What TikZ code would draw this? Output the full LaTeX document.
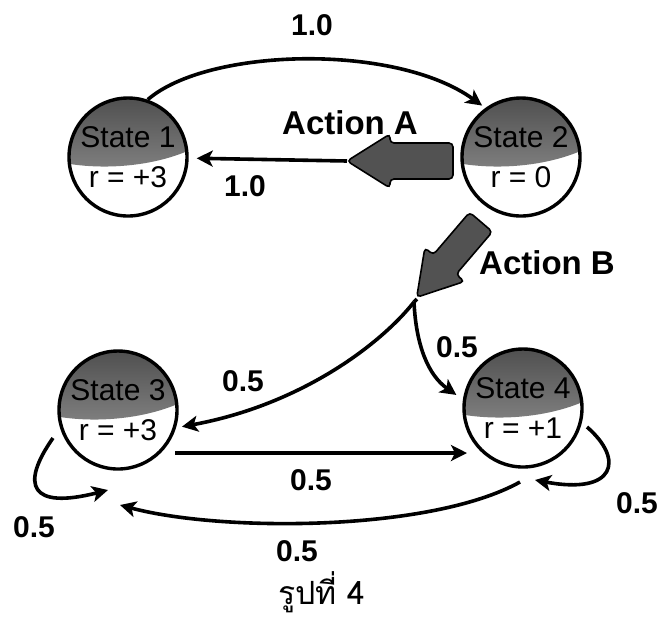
\documentclass[tikz,border=0pt]{standalone}
\usepackage{fontspec}
\setmainfont{Liberation Sans}
\newfontfamily\thaifont[Script=Thai]{Loma}
\usetikzlibrary{arrows.meta,calc}
\begin{document}
\begin{tikzpicture}[x=0.5pt,y=-0.5pt,
  statenode/.style={circle, draw, line width=1.7pt, minimum size=59pt, inner sep=0pt, align=center,
    font=\fontsize{15}{20}\selectfont,
    path picture={\shade[top color=black!70,bottom color=black!38]
       ([shift={(-32pt,-3pt)}]path picture bounding box.center)
       .. controls ([shift={(-10pt,-7pt)}]path picture bounding box.center)
       and ([shift={(15pt,-4pt)}]path picture bounding box.center)
       .. ([shift={(32pt,4pt)}]path picture bounding box.center)
       -- ([shift={(32pt,32pt)}]path picture bounding box.center)
       -- ([shift={(-32pt,32pt)}]path picture bounding box.center) -- cycle;}},
  lbl/.style={font=\bfseries\fontsize{15}{15}\selectfont},
  act/.style={font=\bfseries\fontsize{16.5}{16.5}\selectfont},
  conn/.style={line width=1.8pt, -{Stealth[length=8pt,width=8pt,inset=2pt]}},
  fat/.style={fill=black!68, draw=black, line width=0.8pt, rounded corners=2pt}
]
\useasboundingbox (0,0) rectangle (663,617);

% states
\node[statenode] (s1) at (128,157) {State 1\\r = +3};
\node[statenode] (s2) at (521,157) {State 2\\r = 0};
\node[statenode] (s3) at (118,410) {State 3\\r = +3};
\node[statenode] (s4) at (523,408) {State 4\\r = +1};

% fat action arrows
\begin{scope}[shift={(453,161)}, rotate=180]
  \filldraw[fat] (0,-18) -- (63,-18) -- (63,-27) -- (106,0) -- (63,27) -- (63,18) -- (0,18) -- cycle;
\end{scope}
\begin{scope}[shift={(481,222)}, rotate=229.5]
  \filldraw[fat] (0,-15) -- (56,-15) -- (56,-26) -- (99,0) -- (56,26) -- (56,15) -- (0,15) -- cycle;
\end{scope}

\coordinate (atip) at (347,161);
\coordinate (br) at (414,302);

% connectors
\draw[conn, shorten >=2pt] (s1.71) .. controls +(60,-52) and +(-90,-65) .. (s2.126);
\draw[conn, shorten >=4pt] (atip) -- (s1);
\draw[line width=1.8pt] (br) -- +(3,-3);
\draw[conn, shorten >=3pt] (br) .. controls (380,345) and (300,405) .. (s3.-17);
\draw[conn, shorten >=4pt] (br) .. controls (416,345) and (428,375) .. (s4.172);
\draw[conn] ($(s3)+(57,43)$) -- ($(s4)+(-56,45)$);
\draw[conn] ($(s4)+(-3,74)$) .. controls (430,532) and (220,532) .. ($(s3)+(2,95)$);
\draw[conn] ($(s3)+(-65,28)$) .. controls +(-33,47) and +(-78,20) .. ($(s3)+(-10,80)$);
\draw[conn] ($(s4)+(64,19)$) .. controls +(38,33) and +(80,15) .. ($(s4)+(12,72)$);

% labels
\node[lbl] (l1) at (312,25) {1.0};
\node[act] (la) at (350,123) {Action A};
\node[lbl] (l2) at (245,186) {1.0};
\node[act] (lb) at (547,263) {Action B};
\node[lbl] (l3) at (243,381) {0.5};
\node[lbl] (l4) at (457,347) {0.5};
\node[lbl] (l5) at (311,480) {0.5};
\node[lbl] (l6) at (297,551) {0.5};
\node[lbl] (l7) at (34,527) {0.5};
\node[lbl] (l8) at (637,503) {0.5};
\node (cap) at (322,592) {\thaifont\fontsize{16}{16}\selectfont รูปที่ 4};
\end{tikzpicture}
\end{document}
